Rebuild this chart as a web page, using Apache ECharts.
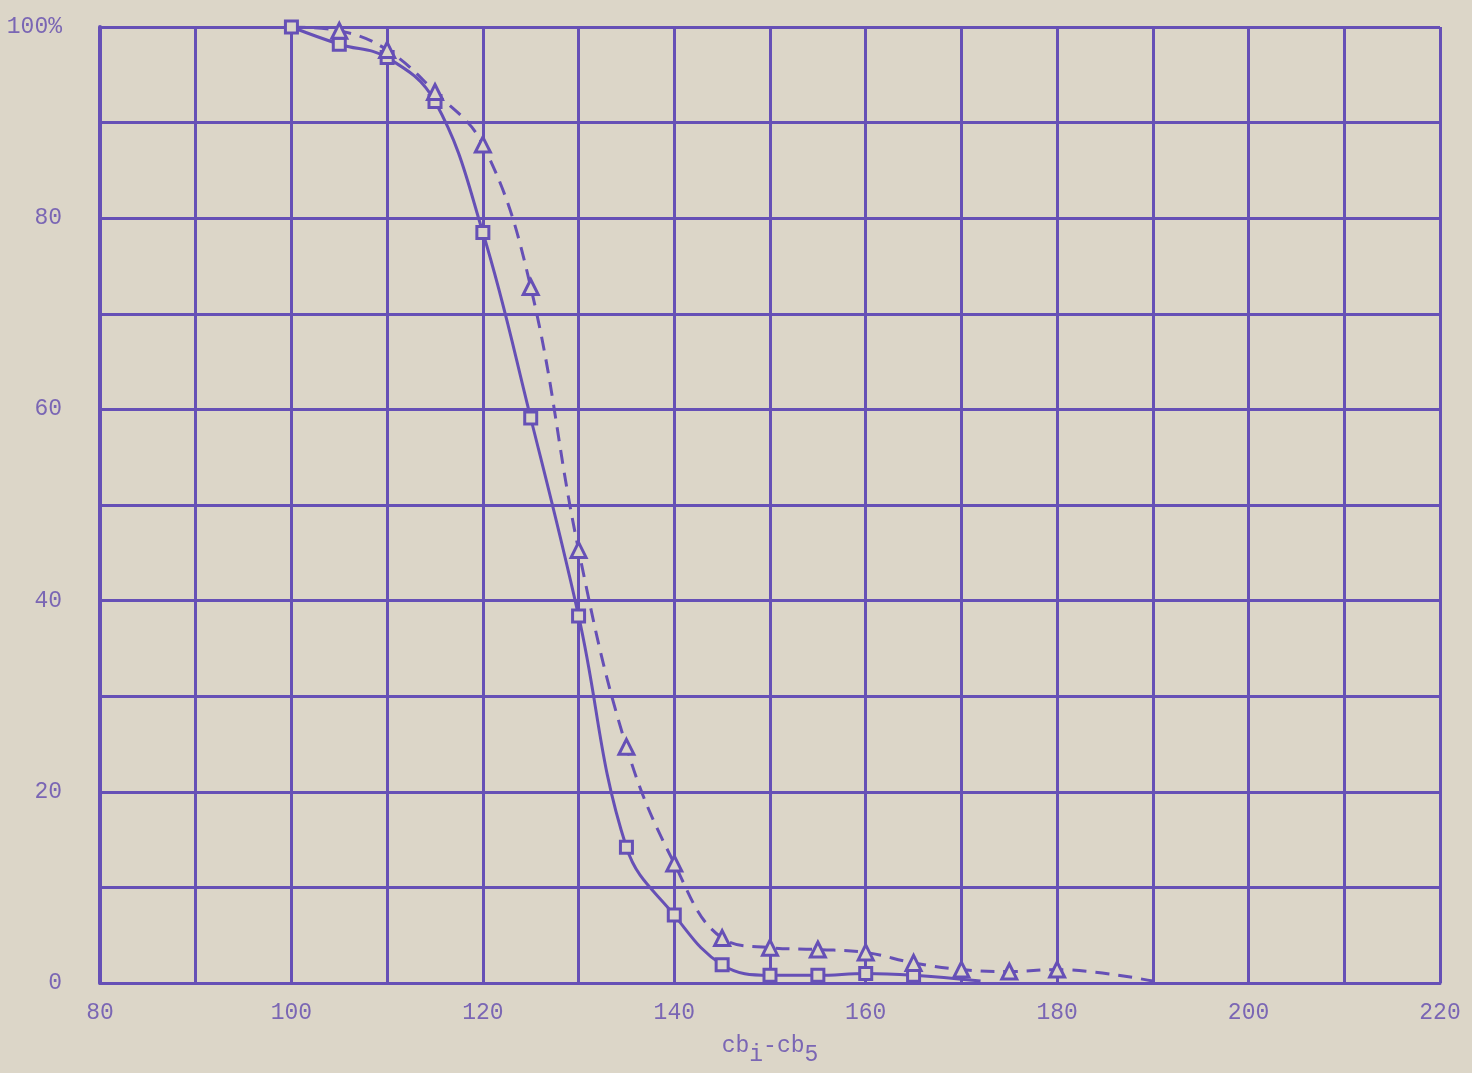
<!DOCTYPE html>
<html>
<head>
<meta charset="utf-8">
<script src="https://cdn.jsdelivr.net/npm/echarts@6/dist/echarts.min.js"></script>
<style>
html,body{margin:0;padding:0;background:#dcd6c8;}
#chart{width:1472px;height:1073px;}
</style>
</head>
<body>
<div id="chart"></div>
<script>
// Square markers (solid curve)
const squareX = [100, 105, 110, 115, 120, 125, 130, 135, 140, 145, 150, 155, 160, 165];
const squareY = [100, 98.2, 96.8, 92.2, 78.5, 59.1, 38.4, 14.2, 7.1, 1.9, 0.8, 0.8, 1.0, 0.8];
// solid curve tail (no marker)
const solidTailX = [172];
const solidTailY = [0.2];

// Triangle markers (dashed curve)
const triStartX = [100];
const triStartY = [100];
const triX = [105, 110, 115, 120, 125, 130, 135, 140, 145, 150, 155, 160, 165, 170, 175, 180];
const triY = [99.6, 97.6, 93.2, 87.7, 72.8, 45.3, 24.7, 12.5, 4.7, 3.7, 3.5, 3.2, 2.1, 1.4, 1.2, 1.4];
const dashTailX = [190];
const dashTailY = [0.2];

const xTicks = [80, 100, 120, 140, 160, 180, 200, 220];
const yTicks = [0, 20, 40, 60, 80, 100];

const bg = '#dcd6c8';
const purple = '#6650b6';
const labelColor = '#7a66b4';
const mono = '"Liberation Mono","DejaVu Sans Mono",monospace';

function pts(xs, ys, symbolOff) {
  return xs.map((x, i) => symbolOff ? {value: [x, ys[i]], symbol: 'none'} : [x, ys[i]]);
}

const squareData = pts(squareX, squareY, false).concat(pts(solidTailX, solidTailY, true));
const triData = pts(triStartX, triStartY, true).concat(pts(triX, triY, false)).concat(pts(dashTailX, dashTailY, true));

const chart = echarts.init(document.getElementById('chart'));
chart.setOption({
  backgroundColor: bg,
  animation: false,
  grid: {left: 100, right: 32, top: 27, bottom: 90, containLabel: false, outerBoundsMode: 'none'},
  xAxis: {
    type: 'value', min: 80, max: 220, interval: 10,
    axisLine: {show: true, lineStyle: {color: purple, width: 3}},
    axisTick: {show: false},
    splitLine: {show: true, lineStyle: {color: purple, width: 3}},
    axisLabel: {
      color: labelColor, fontFamily: mono, fontSize: 23, margin: 18,
      formatter: v => xTicks.indexOf(v) >= 0 ? String(v) : ''
    },
    name: 'cb{sub|i}-cb{sub|5}',
    nameLocation: 'middle',
    nameGap: 42,
    nameTextStyle: {
      color: labelColor, fontFamily: mono, fontSize: 23,
      rich: {sub: {color: labelColor, fontFamily: mono, fontSize: 23, padding: [18, 0, 0, 0]}}
    }
  },
  yAxis: {
    type: 'value', min: 0, max: 100, interval: 10,
    axisLine: {show: true, lineStyle: {color: purple, width: 4}},
    axisTick: {show: false},
    splitLine: {show: true, lineStyle: {color: purple, width: 3}},
    axisLabel: {
      color: labelColor, fontFamily: mono, fontSize: 23, margin: 38,
      formatter: v => v === 100 ? '100%' : (yTicks.indexOf(v) >= 0 ? String(v) : '')
    }
  },
  series: [
    {
      type: 'line', data: squareData, smooth: 0.4,
      symbol: 'rect', symbolSize: 12,
      lineStyle: {color: purple, width: 3},
      itemStyle: {color: bg, borderColor: purple, borderWidth: 3},
      z: 3
    },
    {
      type: 'line', data: triData, smooth: 0.4,
      symbol: 'triangle', symbolSize: 15,
      lineStyle: {color: purple, width: 3, type: [14, 9]},
      itemStyle: {color: bg, borderColor: purple, borderWidth: 3},
      z: 3
    }
  ]
});
</script>
</body>
</html>
